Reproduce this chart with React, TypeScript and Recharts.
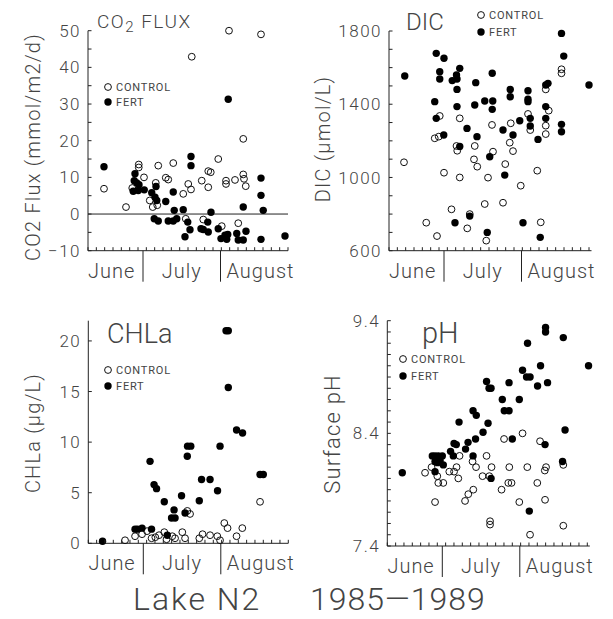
import React from "react";
import { ReferenceLine, Scatter, ScatterChart, XAxis, YAxis } from "recharts";

type Pt = [number, number];

// x = day of year, y = measured value
const co2Control: Pt[] = [
  [166.4, 6.9], [175.2, 1.9], [177.7, 7.1], [180.3, 13.5], [180.3, 12.7], [182.4, 10.0],
  [184.7, 3.7], [185.9, 1.9], [187.1, 8.5], [188.1, 13.2], [187.7, 2.4], [191.1, 9.9],
  [192.1, 9.4], [194.1, 13.9], [198.1, 5.5], [200.1, 8.2], [201.2, 6.7], [199.1, -1.3],
  [201.5, 42.9], [205.5, 9.1], [206.1, -1.5], [208.1, 7.3], [208.1, 11.7], [209.1, 11.4],
  [212.1, 15.0], [213.5, -3.3], [215.2, 9.1], [215.2, 8.2], [216.4, 50.0], [218.8, 9.3],
  [220.1, -2.5], [222.1, 20.5], [222.1, 10.8], [222.4, 9.6], [223.1, 7.6], [229.2, 49.0],
];
const co2Fert: Pt[] = [
  [166.4, 12.9], [178.8, 11.0], [178.5, 9.1], [179.5, 8.5], [180.4, 8.0], [178.1, 6.2],
  [180.1, 6.4], [182.5, 6.6], [185.5, 5.8], [187.2, 7.5], [186.8, 4.6], [187.5, 3.7],
  [191.1, 3.4], [186.5, -1.3], [188.1, -1.9], [192.1, -1.9], [194.1, -1.9], [195.5, -1.3],
  [194.5, 1.0], [198.1, 1.2], [194.1, 6.0], [201.2, 15.7], [201.2, 13.2], [199.9, -2.2],
  [200.8, -4.3], [198.8, -6.2], [205.2, -4.0], [206.1, -4.2], [207.9, -2.2], [208.1, -4.9],
  [209.2, 0.5], [212.1, -4.0], [213.2, -6.7], [214.8, -5.8], [215.9, -5.6], [215.5, -6.9],
  [216.1, 31.3], [219.5, -5.3], [220.1, -7.1], [222.1, -7.1], [223.2, -4.7], [222.1, 1.9],
  [229.2, 9.8], [229.2, 5.1], [230.1, 1.0], [229.2, -6.9], [238.8, -6.0],
];

const dicControl: Pt[] = [
  [166.0, 1083], [174.9, 753], [179.2, 680], [178.3, 1214], [179.9, 1223], [180.3, 1336],
  [182.0, 1026], [188.3, 1323], [187.0, 1172], [187.3, 1146], [188.3, 1000], [185.0, 826],
  [191.3, 722], [192.3, 800], [194.3, 1172], [194.0, 1099], [195.3, 1059], [198.3, 855],
  [198.9, 655], [199.6, 999], [201.2, 1287], [208.7, 1296], [208.3, 1190], [209.6, 1144],
  [201.6, 1141], [206.5, 1073], [219.3, 1037], [212.7, 955], [205.6, 862], [220.7, 755],
  [215.6, 1347], [216.5, 1259], [222.7, 1481], [223.9, 1365], [222.7, 1283], [222.7, 1237],
  [229.0, 1591], [229.0, 1569],
];
const dicFert: Pt[] = [
  [166.3, 1554], [178.9, 1678], [182.0, 1651], [180.3, 1578], [180.3, 1538], [178.3, 1414],
  [178.9, 1323], [181.9, 1232], [185.3, 1529], [187.0, 1560], [187.2, 1538], [188.3, 1596],
  [187.2, 1481], [187.2, 1387], [188.3, 1169], [191.2, 1268], [194.7, 1518], [194.3, 1396],
  [195.2, 1223], [198.3, 1418], [201.3, 1569], [201.5, 1418], [201.3, 1372], [200.3, 1113],
  [208.5, 1481], [208.5, 1441], [209.6, 1232], [205.6, 1259], [212.3, 1310], [206.3, 1013],
  [215.6, 1474], [215.6, 1427], [215.6, 1414], [216.5, 1323], [216.5, 1281], [219.6, 1208],
  [222.7, 1387], [222.7, 1323], [222.7, 1505], [223.6, 1514], [229.0, 1787], [229.9, 1663],
  [229.0, 1290], [229.0, 1250], [240.0, 1505], [186.4, 753], [192.3, 789], [199.3, 700],
  [213.6, 753], [220.5, 673],
];

const chlControl: Pt[] = [
  [174.7, 0.3], [178.7, 0.7], [181.5, 0.9], [183.5, 1.2], [185.3, 0.5], [186.8, 0.6],
  [188.3, 0.8], [190.4, 1.1], [191.3, 0.4], [193.6, 0.7], [194.7, 0.5], [197.6, 1.1],
  [198.7, 0.5], [199.6, 3.2], [200.7, 2.9], [204.4, 0.5], [205.7, 0.9], [208.7, 0.8],
  [211.6, 0.7], [212.7, 0.3], [214.4, 2.0], [215.7, 1.5], [219.3, 0.7], [221.6, 1.5],
  [228.7, 4.1],
];
const chlFert: Pt[] = [
  [165.7, 0.2], [178.7, 1.4], [179.7, 1.4], [181.5, 1.5], [185.3, 1.4], [184.7, 8.1],
  [186.3, 5.8], [187.3, 5.4], [190.4, 4.1], [191.6, 0.8], [194.3, 3.3], [193.3, 2.5],
  [194.7, 2.5], [197.3, 4.7], [198.7, 3.0], [199.6, 8.6], [199.7, 9.6], [201.0, 9.6],
  [204.4, 4.2], [205.3, 6.3], [208.7, 6.3], [211.7, 5.2], [212.7, 9.6], [215.1, 21.0],
  [216.0, 21.0], [216.0, 15.4], [219.3, 11.2], [221.7, 10.9], [228.7, 6.8], [230.0, 6.8],
];

const phControl: Pt[] = [
  [175.1, 8.05], [177.7, 8.1], [179.1, 7.79], [180.0, 8.02], [180.4, 7.96], [182.4, 7.96],
  [184.8, 8.06], [186.7, 8.06], [187.7, 8.1], [188.4, 8.0], [188.9, 8.2], [191.1, 7.8],
  [192.4, 7.86], [194.4, 7.9], [194.1, 8.15], [195.5, 8.1], [198.1, 8.02], [199.7, 8.2],
  [200.8, 8.02], [201.1, 7.62], [201.1, 7.59], [201.7, 8.1], [205.7, 7.9], [206.7, 8.35],
  [208.8, 8.1], [208.4, 7.96], [209.7, 7.96], [214.1, 8.4], [212.8, 7.79], [216.0, 8.1],
  [217.1, 7.5], [220.0, 7.96], [221.1, 8.33], [223.1, 7.81], [223.0, 8.07], [223.5, 8.1],
  [230.4, 8.12], [230.4, 7.58],
];
const phFert: Pt[] = [
  [166.0, 8.05], [178.0, 8.2], [179.1, 8.2], [180.4, 8.2], [182.0, 8.2], [179.1, 8.15],
  [180.1, 8.14], [181.1, 8.16], [179.1, 8.06], [182.4, 8.12], [185.3, 8.24], [186.4, 8.2],
  [186.7, 8.31], [187.6, 8.3], [188.7, 8.5], [191.3, 8.26], [192.3, 8.32], [194.3, 8.6],
  [195.6, 8.56], [194.3, 8.2], [195.3, 8.35], [198.3, 8.41], [200.3, 8.49], [199.7, 8.86],
  [200.7, 8.8], [201.5, 8.8], [201.5, 8.0], [206.0, 8.7], [206.8, 8.6], [208.7, 8.6],
  [208.7, 8.85], [210.0, 8.35], [212.8, 8.7], [214.1, 8.96], [216.1, 9.2], [215.7, 8.9],
  [217.1, 8.9], [220.1, 8.82], [221.3, 9.0], [223.3, 9.34], [223.3, 9.3], [224.1, 8.85],
  [223.1, 8.3], [230.4, 9.25], [231.1, 8.43], [230.1, 8.15], [240.5, 9.0], [216.8, 7.71],
];

const monthNames = ["June", "July", "August"];
const monthStarts = [182, 213];
const monthMids = [169.5, 197.5, 229];
const minorDays = Array.from({ length: 25 }, (_, i) => 160 + (i * 10) / 3);

const co2Ticks = [-10, -5, 0, 5, 10, 15, 20, 25, 30, 35, 40, 45, 50];
const co2Labels = [-10, 0, 10, 20, 30, 40, 50];
const dicTicks = [600, 700, 800, 900, 1000, 1100, 1200, 1300, 1400, 1500, 1600, 1700, 1800];
const dicLabels = [600, 1000, 1400, 1800];
const chlTicks = [0, 5, 10, 15, 20];
const chlLabels = [0, 5, 10, 15, 20];
const phTicks = Array.from({ length: 21 }, (_, i) => 7.4 + i * 0.1);
const phLabels = [7.4, 8.4, 9.4];

const W = 613;
const H = 619;
const FONT = "Roboto, 'DejaVu Sans', sans-serif";
const INK = "#444";
const LINE = "#222";

function XTick(props: any) {
  const { x, y, payload } = props;
  const v = payload.value;
  const mi = monthMids.indexOf(v);
  if (mi >= 0) {
    return (
      <text x={x} y={y + 27} textAnchor="middle" fontSize={20} fontWeight={300}
        fontFamily={FONT} fill={INK} letterSpacing={1}>
        {monthNames[mi]}
      </text>
    );
  }
  if (monthStarts.includes(v)) {
    return <line x1={x} x2={x} y1={y} y2={y + 31} stroke={LINE} strokeWidth={1} />;
  }
  return <line x1={x} x2={x} y1={y} y2={y - 3.5} stroke={LINE} strokeWidth={1} />;
}

const yTick = (labels: number[], digits: number) => (props: any) => {
  const { x, y, payload } = props;
  const v = payload.value;
  const show = labels.some((l) => Math.abs(l - v) < 1e-6);
  const txt = v < 0 ? "\u2212" + Math.abs(v).toFixed(digits) : v.toFixed(digits);
  return (
    <g>
      <line x1={x} x2={x + 3.5} y1={y} y2={y} stroke={LINE} strokeWidth={1} />
      {show && (
        <text x={x - 7} y={y} dy="0.36em" textAnchor="end" fontSize={17} fontWeight={300}
          fontFamily={FONT} fill={INK} letterSpacing={1.5}>
          {txt}
        </text>
      )}
    </g>
  );
};

const openDot = (p: any) => (
  <circle cx={p.cx} cy={p.cy} r={3.4} fill="none" stroke="#111" strokeWidth={1} />
);
const fillDot = (p: any) => <circle cx={p.cx} cy={p.cy} r={3.7} fill="#000" />;

interface PanelProps {
  left: number;
  top: number;
  right: number;
  bottom: number;
  xMax: number;
  yDomain: [number, number];
  yTicks: number[];
  yLabels: number[];
  digits: number;
  control: Pt[];
  fert: Pt[];
  zeroLine?: boolean;
}

function Panel(p: PanelProps): JSX.Element {
  const yAxisW = 60;
  const xAxisH = 30;
  const xTicks = Array.from(new Set([...minorDays, ...monthStarts, ...monthMids])).sort(
    (a, b) => a - b,
  );
  return (
    <div style={{ position: "absolute", left: 0, top: 0 }}>
      <ScatterChart
        width={W}
        height={H}
        margin={{
          left: p.left - yAxisW,
          top: p.top,
          right: W - p.right,
          bottom: H - p.bottom - xAxisH,
        }}
      >
        <XAxis type="number" dataKey="d" domain={[160, p.xMax]} ticks={xTicks} interval={0}
          height={xAxisH} tickSize={0} tickMargin={0} tick={<XTick />}
          axisLine={{ stroke: LINE, strokeWidth: 1 }} />
        <YAxis type="number" dataKey="v" domain={p.yDomain} ticks={p.yTicks} interval={0}
          width={yAxisW} tickSize={0} tickMargin={0} tick={yTick(p.yLabels, p.digits)}
          axisLine={{ stroke: LINE, strokeWidth: 1 }} />
        {p.zeroLine && <ReferenceLine y={0} stroke={LINE} strokeWidth={1} />}
        <Scatter data={p.control.map(([d, v]) => ({ d, v }))} shape={openDot}
          isAnimationActive={false} />
        <Scatter data={p.fert.map(([d, v]) => ({ d, v }))} shape={fillDot}
          isAnimationActive={false} />
      </ScatterChart>
    </div>
  );
}

function LegendBox({ x, y, gap }: { x: number; y: number; gap: number }) {
  const t = { fontSize: 11, fontFamily: FONT, fill: INK, letterSpacing: 0.8 } as const;
  return (
    <g>
      <circle cx={x} cy={y} r={3.4} fill="none" stroke="#111" />
      <text x={x + 8} y={y + 4} {...t}>CONTROL</text>
      <circle cx={x} cy={y + gap} r={3.7} fill="#000" />
      <text x={x + 8} y={y + gap + 4} {...t}>FERT</text>
    </g>
  );
}

function Overlay() {
  const base = { fontFamily: FONT, fontWeight: 300, fill: INK } as const;
  const yl = (x: number, y: number, s: string, size: number) => (
    <text x={x} y={y} transform={`rotate(-90 ${x} ${y})`} textAnchor="middle" dy="0.36em"
      fontSize={size} letterSpacing={1.2} {...base}>{s}</text>
  );
  return (
    <svg width={W} height={H} style={{ position: "absolute", left: 0, top: 0, pointerEvents: "none" }}>
      <text x={97} y={28} fontSize={19} letterSpacing={1.5} {...base}>
        CO<tspan fontSize={15} dy={4}>2</tspan><tspan dy={-4}> FLUX</tspan>
      </text>
      <text x={406} y={30} fontSize={24} {...base}>DIC</text>
      <text x={107} y={343} fontSize={27} {...base}>CHLa</text>
      <text x={422} y={343} fontSize={29} {...base}>pH</text>

      {yl(33, 147, "CO2 Flux (mmol/m2/d)", 20)}
      {yl(323, 139, "DIC  (\u03bcmol/L)", 20)}
      {yl(33, 433, "CHLa  (\u03bcg/L)", 20)}
      {yl(332, 434, "Surface  pH", 22)}

      <LegendBox x={108} y={87} gap={15} />
      <LegendBox x={481} y={15} gap={17} />
      <LegendBox x={108} y={370} gap={16} />
      <LegendBox x={403} y={359} gap={17} />

      <text x={133} y={610} fontSize={32} letterSpacing={2} {...base}>Lake N2</text>
      <text x={310} y={610} fontSize={32} letterSpacing={1} {...base}>1985{"\u2014"}1989</text>
    </svg>
  );
}

export default function App(): JSX.Element {
  return (
    <div style={{ position: "absolute", left: 0, top: 0, width: W, height: H, background: "#fff" }}>
      <Panel left={88} top={30.7} right={288} bottom={250.7} xMax={240} yDomain={[-10, 50]}
        yTicks={co2Ticks} yLabels={co2Labels} digits={0} control={co2Control} fert={co2Fert} zeroLine />
      <Panel left={389} top={31} right={591.5} bottom={250.7} xMax={241} yDomain={[600, 1800]}
        yTicks={dicTicks} yLabels={dicLabels} digits={0} control={dicControl} fert={dicFert} />
      <Panel left={88.3} top={320.7} right={288.3} bottom={543.3} xMax={240} yDomain={[0, 22]}
        yTicks={chlTicks} yLabels={chlLabels} digits={0} control={chlControl} fert={chlFert} />
      <Panel left={387.3} top={320.7} right={589.8} bottom={546} xMax={241} yDomain={[7.4, 9.4]}
        yTicks={phTicks} yLabels={phLabels} digits={1} control={phControl} fert={phFert} />
      <Overlay />
    </div>
  );
}
